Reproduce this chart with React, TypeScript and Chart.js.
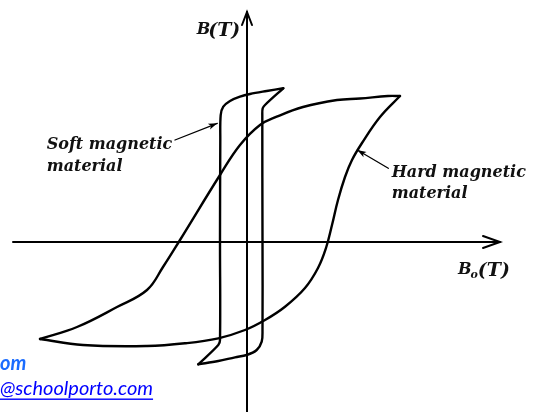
import React, { useEffect, useRef } from "react";
import { Chart, registerables } from "chart.js";

Chart.register(...registerables);

// Soft magnetic material loop (B0, B), descending and ascending branches
const softDescX = [0.363, 0.197, 0.03, -0.07, -0.17, -0.237, -0.263, -0.267, -0.27, -0.27, -0.287, -0.487];
const softDescY = [1.537, 1.51, 1.48, 1.453, 1.41, 1.353, 1.27, 1.02, 0.02, -0.98, -1.03, -1.223];
const softAscX = [-0.487, -0.287, -0.12, -0.003, 0.097, 0.147, 0.155, 0.155, 0.153, 0.157, 0.18, 0.363];
const softAscY = [-1.223, -1.19, -1.153, -1.13, -1.08, -0.997, -0.88, 0.02, 1.27, 1.337, 1.37, 1.537];

// Hard magnetic material loop
const hardDescX = [1.53, 1.41, 1.13, 0.9, 0.56, 0.297, 0.13, -0.07, -0.27, -0.67, -0.84, -1.0, -1.3, -1.7, -2.07];
const hardDescY = [1.46, 1.46, 1.435, 1.42, 1.35, 1.253, 1.17, 0.97, 0.67, 0.02, -0.25, -0.48, -0.65, -0.85, -0.97];
const hardAscX = [-2.07, -1.64, -1.0, -0.62, -0.287, -0.02, 0.18, 0.38, 0.58, 0.71, 0.79, 0.85, 0.91, 0.98, 1.05, 1.15, 1.33, 1.53];
const hardAscY = [-0.97, -1.03, -1.04, -1.013, -0.963, -0.88, -0.78, -0.647, -0.46, -0.26, -0.06, 0.17, 0.42, 0.65, 0.82, 0.99, 1.25, 1.46];

// Axes (start, end)
const xAxisX = [-2.34, 2.53];
const xAxisY = [0, 0];
const yAxisX = [0, 0];
const yAxisY = [-1.72, 2.3];

// Leader lines (label end -> tip)
const softLeaderX = [-0.72, -0.297];
const softLeaderY = [1.02, 1.187];
const hardLeaderX = [1.413, 1.103];
const hardLeaderY = [0.737, 0.92];

// Text labels
const softLabel = ["Soft magnetic", "material"];
const hardLabel = ["Hard magnetic", "material"];
const yTitle = ["B", "(T)"];
const xTitle = ["B", "o", "(T)"];
const watermark = ["om", "@schoolporto.com"];

const toPts = (xs: number[], ys: number[]) => xs.map((x, i) => ({ x, y: ys[i] }));

const LABEL_FONT = "bold italic 16px 'DejaVu Serif'";

const decorPlugin = {
  id: "decor",
  afterDatasetsDraw(chart: any) {
    const { ctx, scales } = chart;
    const X = (v: number) => scales.x.getPixelForValue(v);
    const Y = (v: number) => scales.y.getPixelForValue(v);

    const chevron = (xs: number[], ys: number[], len: number, half: number) => {
      const x0 = X(xs[0]), y0 = Y(ys[0]), x1 = X(xs[1]), y1 = Y(ys[1]);
      const a = Math.atan2(y1 - y0, x1 - x0);
      ctx.save();
      ctx.strokeStyle = "#000";
      ctx.lineWidth = 2;
      ctx.lineCap = "round";
      ctx.lineJoin = "miter";
      ctx.beginPath();
      ctx.moveTo(x1 - len * Math.cos(a) + half * Math.sin(a), y1 - len * Math.sin(a) - half * Math.cos(a));
      ctx.lineTo(x1, y1);
      ctx.lineTo(x1 - len * Math.cos(a) - half * Math.sin(a), y1 - len * Math.sin(a) + half * Math.cos(a));
      ctx.stroke();
      ctx.restore();
    };
    const filledHead = (xs: number[], ys: number[], len: number, half: number) => {
      const x0 = X(xs[0]), y0 = Y(ys[0]), x1 = X(xs[1]), y1 = Y(ys[1]);
      const a = Math.atan2(y1 - y0, x1 - x0);
      ctx.save();
      ctx.fillStyle = "#000";
      ctx.beginPath();
      ctx.moveTo(x1, y1);
      ctx.lineTo(x1 - len * Math.cos(a) + half * Math.sin(a), y1 - len * Math.sin(a) - half * Math.cos(a));
      ctx.lineTo(x1 - len * 0.75 * Math.cos(a), y1 - len * 0.75 * Math.sin(a));
      ctx.lineTo(x1 - len * Math.cos(a) - half * Math.sin(a), y1 - len * Math.sin(a) + half * Math.cos(a));
      ctx.closePath();
      ctx.fill();
      ctx.restore();
    };

    chevron(xAxisX, xAxisY, 17, 6);
    chevron([yAxisX[0], yAxisX[1]], [yAxisY[0], yAxisY[1]], 13, 5);
    filledHead(softLeaderX, softLeaderY, 9, 3);
    filledHead(hardLeaderX, hardLeaderY, 9, 3);

    ctx.save();
    ctx.fillStyle = "#111";
    ctx.textBaseline = "alphabetic";
    ctx.textAlign = "left";
    ctx.font = LABEL_FONT;
    ctx.fillText(softLabel[0], X(-2.003), Y(0.93));
    ctx.fillText(softLabel[1], X(-2.003), Y(0.713));
    ctx.fillText(hardLabel[0], X(1.447), Y(0.653));
    ctx.fillText(hardLabel[1], X(1.447), Y(0.437));

    // y title B(T)
    let bx = X(-0.503), by = Y(2.08);
    ctx.font = "bold italic 16px 'DejaVu Serif'";
    ctx.fillText(yTitle[0], bx, by);
    bx += ctx.measureText(yTitle[0]).width - 2;
    ctx.font = "bold italic 19px 'DejaVu Serif'";
    ctx.fillText(yTitle[1], bx, by + 2);

    // x title B_o(T)
    let cx = X(2.11), cy = Y(-0.32);
    ctx.font = "bold italic 16px 'DejaVu Serif'";
    ctx.fillText(xTitle[0], cx, cy);
    cx += ctx.measureText(xTitle[0]).width;
    ctx.font = "bold italic 11px 'DejaVu Serif'";
    ctx.fillText(xTitle[1], cx - 1, cy + 4);
    cx += ctx.measureText(xTitle[1]).width - 1;
    ctx.font = "bold italic 19px 'DejaVu Serif'";
    ctx.fillText(xTitle[2], cx, cy + 2);

    // watermark
    ctx.fillStyle = "#1a6cff";
    ctx.font = "bold italic 20px Lato";
    ctx.fillText(watermark[0], X(-2.47), Y(-1.28));
    ctx.fillStyle = "#0000ff";
    ctx.font = "italic 20px Lato";
    const wx = X(-2.47), wy = Y(-1.53);
    ctx.fillText(watermark[1], wx, wy);
    const w = ctx.measureText(watermark[1]).width;
    ctx.fillRect(wx, wy + 3.5, w, 1.4);
    ctx.restore();
  },
};

export default function App() {
  const ref = useRef<HTMLCanvasElement | null>(null);
  useEffect(() => {
    if (!ref.current) return;
    const line = (xs: number[], ys: number[], width: number, tension: number) => ({
      data: toPts(xs, ys),
      showLine: true,
      borderColor: "#000",
      borderWidth: width,
      pointRadius: 0,
      pointHoverRadius: 0,
      tension,
      fill: false,
      clip: false as any,
      borderCapStyle: "round" as const,
      borderJoinStyle: "round" as const,
    });
    const chart = new Chart(ref.current, {
      type: "scatter",
      data: {
        datasets: [
          line(xAxisX, xAxisY, 2, 0),
          line(yAxisX, yAxisY, 2, 0),
          line(softDescX, softDescY, 2.4, 0.35),
          line(softAscX, softAscY, 2.4, 0.35),
          line(hardDescX, hardDescY, 2.4, 0.4),
          line(hardAscX, hardAscY, 2.4, 0.4),
          line(softLeaderX, softLeaderY, 1.3, 0),
          line(hardLeaderX, hardLeaderY, 1.3, 0),
        ],
      },
      options: {
        animation: false,
        responsive: false,
        devicePixelRatio: 1,
        layout: { padding: 0 },
        plugins: { legend: { display: false }, tooltip: { enabled: false } },
        events: [],
        scales: {
          x: { type: "linear", min: -2.47, max: 2.93, display: false },
          y: { type: "linear", min: -1.7, max: 2.42, display: false },
        },
      },
      plugins: [decorPlugin],
    });
    return () => chart.destroy();
  }, []);
  return (
    <div style={{ position: "fixed", left: 0, top: 0, width: 540, height: 412, background: "#fff" }}>
      <canvas ref={ref} width={540} height={412} style={{ display: "block" }} />
    </div>
  );
}
